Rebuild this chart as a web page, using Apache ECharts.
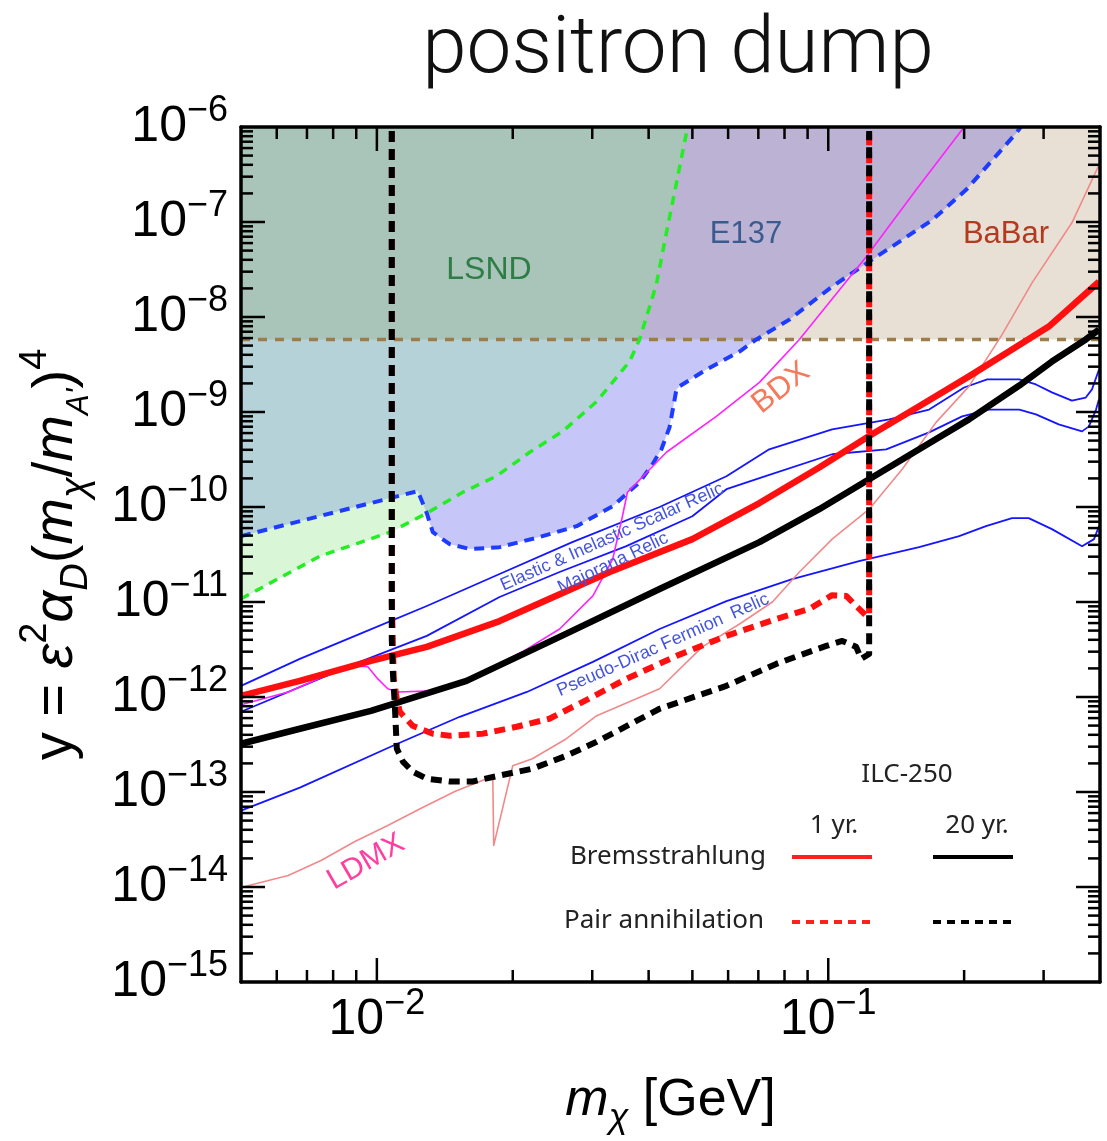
<!DOCTYPE html>
<html><head><meta charset="utf-8">
<script src="https://cdn.jsdelivr.net/npm/echarts@6/dist/echarts.min.js"></script>
<style>html,body{margin:0;padding:0;background:#fff}#c{width:1107px;height:1141px}</style>
</head><body><div id="c"></div>
<script>
const xMin = 0.005, xMax = 0.4, yMin = 1e-15, yMax = 1e-6;
const babarLevel = 5.8e-9;

const lsndEdge = [[0.005,1.08e-11],[0.00748,3.04e-11],[0.0107,5.43e-11],[0.0129,8.61e-11],[0.0155,1.43e-10],[0.0184,2.11e-10],[0.0218,3.77e-10],[0.0258,6.25e-10],[0.0307,1.29e-9],[0.0363,3.40e-9],[0.0382,5.8e-9],[0.0416,2.19e-8],[0.0438,7.70e-8],[0.0461,2.58e-7],[0.0488,1e-6]];
const e137Edge = [[0.005,4.93e-11],[0.01232,1.47e-10],[0.0129,8.61e-11],[0.0133,5.43e-11],[0.0145,4.06e-11],[0.0161,3.61e-11],[0.0187,3.78e-11],[0.0229,4.82e-11],[0.0277,6.28e-11],[0.0333,1.02e-10],[0.0382,1.82e-10],[0.0408,2.82e-10],[0.0427,4.05e-10],[0.0445,6.89e-10],[0.0461,1.73e-9],[0.0468,1.86e-9],[0.0537,2.80e-9],[0.0636,4.33e-9],[0.0693,5.8e-9],[0.0820,9.39e-9],[0.102,2.09e-8],[0.125,4.01e-8],[0.170,1.05e-7],[0.202,2.18e-7],[0.261,8.65e-7],[0.267,1e-6]];
const lsndE137Cross = 0.0129;

const scalarRelic = [[0.005,1.31e-12],[0.00675,2.52e-12],[0.00917,4.61e-12],[0.0129,9.08e-12],[0.0187,1.97e-11],[0.0271,4.27e-11],[0.0423,1.0e-10],[0.0595,2.11e-10],[0.0740,4.05e-10],[0.102,6.56e-10],[0.1365,8.36e-10],[0.1673,1.06e-9],[0.200,1.81e-9],[0.225,2.20e-9],[0.265,2.20e-9],[0.2885,1.95e-9],[0.313,1.61e-9],[0.3466,1.32e-9],[0.372,1.42e-9],[0.384,1.73e-9],[0.398,2.80e-9]];
const majoranaRelic = [[0.005,6.99e-13],[0.00917,2.34e-12],[0.0129,4.40e-12],[0.0187,1.13e-11],[0.0254,2.07e-11],[0.0357,3.87e-11],[0.0500,8.0e-11],[0.0595,1.54e-10],[0.0715,2.06e-10],[0.102,3.59e-10],[0.1344,4.05e-10],[0.1673,6.11e-10],[0.198,8.99e-10],[0.227,1.06e-9],[0.265,1.06e-9],[0.2885,9.44e-10],[0.324,7.41e-10],[0.365,6.25e-10],[0.378,7.06e-10],[0.392,1.06e-9],[0.398,1.36e-9]];
const pseudoDiracRelic = [[0.005,6.38e-14],[0.00675,1.11e-13],[0.01085,3.07e-13],[0.01526,6.19e-13],[0.0215,1.13e-12],[0.0301,2.34e-12],[0.0423,5.20e-12],[0.0595,1.02e-11],[0.0832,1.74e-11],[0.117,2.70e-11],[0.159,3.78e-11],[0.195,4.93e-11],[0.2236,6.28e-11],[0.2554,7.63e-11],[0.278,7.63e-11],[0.313,5.85e-11],[0.365,3.87e-11],[0.388,4.59e-11],[0.398,6.28e-11]];

const brems1yr = [[0.005,1.03e-12],[0.00675,1.48e-12],[0.0097,2.40e-12],[0.0129,3.37e-12],[0.0187,6.3e-12],[0.0328,2.07e-11],[0.0500,4.59e-11],[0.0704,1.1e-10],[0.0955,2.6e-10],[0.1232,5.6e-10],[0.159,1.15e-9],[0.205,2.37e-9],[0.2554,4.55e-9],[0.308,7.93e-9],[0.398,2.35e-8]];
const brems20yr = [[0.005,3.22e-13],[0.00675,4.63e-13],[0.0097,7.16e-13],[0.0158,1.48e-12],[0.0254,4.29e-12],[0.0423,1.37e-11],[0.0704,4.27e-11],[0.0955,9.48e-11],[0.1232,1.96e-10],[0.159,4.05e-10],[0.205,8.36e-10],[0.265,1.90e-9],[0.313,3.40e-9],[0.372,5.8e-9],[0.398,7.37e-9]];
const pair1yr = [[0.01079,9.08e-7],[0.01079,1.08e-11],[0.0109,1.55e-12],[0.01107,9.57e-13],[0.01124,6.99e-13],[0.0120,4.98e-13],[0.0133,4.11e-13],[0.0145,3.91e-13],[0.01716,4.11e-13],[0.0204,4.86e-13],[0.0241,5.90e-13],[0.0286,8.90e-13],[0.0357,1.55e-12],[0.0461,2.71e-12],[0.0595,4.40e-12],[0.0767,6.63e-12],[0.0908,8.44e-12],[0.102,1.18e-11],[0.1096,1.16e-11],[0.1153,9.08e-12],[0.1214,7.13e-12],[0.1232,7.13e-12],[0.1232,9.08e-7]];
const pair20yr = [[0.01079,9.08e-7],[0.01079,4.09e-12],[0.01085,1.84e-12],[0.01096,8.08e-13],[0.01107,2.86e-13],[0.01142,2.09e-13],[0.0120,1.64e-13],[0.0129,1.38e-13],[0.0145,1.29e-13],[0.0163,1.29e-13],[0.0187,1.49e-13],[0.0221,1.76e-13],[0.0263,2.41e-13],[0.0307,3.38e-13],[0.0423,7.52e-13],[0.0595,1.31e-12],[0.0767,2.23e-12],[0.0908,2.99e-12],[0.0990,3.45e-12],[0.1074,3.89e-12],[0.1153,3.37e-12],[0.1183,2.52e-12],[0.1232,2.84e-12],[0.1232,9.08e-7]];

const bdxLimit = [[0.005,8.28e-13],[0.00636,1.13e-12],[0.00863,2.13e-12],[0.00955,2.08e-12],[0.01005,1.55e-12],[0.01057,1.22e-12],[0.01113,1.13e-12],[0.0133,1.16e-12],[0.0145,1.28e-12],[0.01778,1.98e-12],[0.0210,2.99e-12],[0.0254,5.20e-12],[0.0301,1.16e-11],[0.0333,2.83e-11],[0.0350,8.0e-11],[0.0359,1.43e-10],[0.0438,3.77e-10],[0.0565,8.99e-10],[0.0704,2.05e-9],[0.0863,5.8e-9],[0.1214,4.31e-8],[0.1566,2.18e-7],[0.200,1e-6]];
const ldmxLimit = [[0.005,9.90e-15],[0.00636,1.32e-14],[0.00752,1.90e-14],[0.00894,3.01e-14],[0.01057,4.44e-14],[0.0125,6.69e-14],[0.01488,1.01e-13],[0.0175,1.38e-13],[0.01806,1.49e-13],[0.01815,2.74e-14],[0.0200,1.89e-13],[0.0221,2.24e-13],[0.0263,3.64e-13],[0.0307,6.35e-13],[0.0423,1.22e-12],[0.0526,3.37e-12],[0.0636,5.87e-12],[0.0752,1.0e-11],[0.0863,2.07e-11],[0.102,4.59e-11],[0.1232,9.48e-11],[0.1458,2.50e-10],[0.1733,7.78e-10],[0.205,1.86e-9],[0.2427,6.53e-9],[0.283,2.30e-8],[0.3466,9.81e-8],[0.398,3.99e-7]];

const xMajorTicks = [0.01, 0.1];
const xMinorTicks = [0.006,0.007,0.008,0.009,0.02,0.03,0.04,0.05,0.06,0.07,0.08,0.09,0.2,0.3];
const yMajorTicks = [1e-14,1e-13,1e-12,1e-11,1e-10,1e-9,1e-8,1e-7];
const yMinorMantissas = [2,3,4,5,6,7,8,9];
const yDecades = [-15,-14,-13,-12,-11,-10,-9,-8,-7];
const yMinorTicks = [];
yDecades.forEach(e => yMinorMantissas.forEach(m => yMinorTicks.push(Number((m * Math.pow(10, e)).toPrecision(3)))));

const FONT = 'Liberation Sans';

function poly(pts, color, z) {
  return {type:'custom', coordinateSystem:'cartesian2d', silent:true, z, data:[pts[0]],
    renderItem: (p, api) => ({type:'polygon', shape:{points: pts.map(q => api.coord(q))}, style:{fill: color}})};
}
function line(data, color, width, type, z) {
  return {type:'line', data, showSymbol:false, symbol:'none', silent:true, z, animation:false,
    lineStyle:{color, width, type, cap:'butt', join:'round'}, emphasis:{disabled:true}};
}
function tickSeries(data, isX) {
  return {type:'custom', coordinateSystem:'cartesian2d', silent:true, z:15, data,
    renderItem: (p, api) => {
      const len = api.value(2);
      const st = {stroke:'#000', lineWidth:2.5};
      if (isX) {
        const v = api.value(0);
        const b = api.coord([v, yMin]), t = api.coord([v, yMax]);
        return {type:'group', children:[
          {type:'line', shape:{x1:b[0], y1:b[1], x2:b[0], y2:b[1]-len}, style:st},
          {type:'line', shape:{x1:t[0], y1:t[1], x2:t[0], y2:t[1]+len}, style:st}]};
      } else {
        const v = api.value(1);
        const l = api.coord([xMin, v]), r = api.coord([xMax, v]);
        return {type:'group', children:[
          {type:'line', shape:{x1:l[0], y1:l[1], x2:l[0]+len, y2:l[1]}, style:st},
          {type:'line', shape:{x1:r[0], y1:r[1], x2:r[0]-len, y2:r[1]}, style:st}]};
      }
    }};
}
function powLabel(v) {
  const e = Math.log10(v), r = Math.round(e);
  if (Math.abs(e - r) > 1e-6) return '';
  return '{b|10}{s|\u2212' + (-r) + '}';
}
const tickRich = {
  b: {fontSize:50, lineHeight:68, fontFamily:FONT, color:'#000'},
  s: {fontSize:36, lineHeight:36, verticalAlign:'top', fontFamily:FONT, color:'#000'}
};

const upperE137 = [[xMin, babarLevel]].concat(e137Edge.filter(p => p[1] >= babarLevel), [[xMin, yMax]]);
const upperLsnd = [[xMin, babarLevel]].concat(lsndEdge.filter(p => p[1] >= babarLevel), [[xMin, yMax]]);
const wedge = e137Edge.filter(p => p[0] <= lsndE137Cross).concat(lsndEdge.filter(p => p[0] < lsndE137Cross).reverse());

const series = [
  poly([[xMin,babarLevel],[xMax,babarLevel],[xMax,yMax],[xMin,yMax]], '#e8e0d4', 1),
  poly(e137Edge.concat([[xMin,yMax]]), '#c6c7f8', 1),
  poly(upperE137, '#bcb2d3', 1),
  poly(lsndEdge.concat([[xMin,yMax]]), '#b4d2d7', 1),
  poly(upperLsnd, '#a9c4b8', 1),
  poly(wedge, '#d9f7d6', 1),
  line([[xMin,babarLevel],[xMax,babarLevel]], '#9c7d4a', 3.5, [9,8], 2),
  line(lsndEdge, '#22ee22', 3.5, [9,7], 2),
  line(e137Edge, '#1d3cff', 4, [10,7], 2),
  line(scalarRelic, '#1515ff', 1.8, 'solid', 3),
  line(majoranaRelic, '#1515ff', 1.8, 'solid', 3),
  line(pseudoDiracRelic, '#1515ff', 1.8, 'solid', 3),
  line(ldmxLimit, '#f08a8a', 1.6, 'solid', 3),
  line(bdxLimit, '#ff22ff', 1.6, 'solid', 3),
  line(brems1yr, '#ff1010', 6.5, 'solid', 4),
  line(brems20yr, '#000000', 6.5, 'solid', 4),
  line(pair1yr, '#ff1010', 6, [11,7], 5),
  line(pair20yr, '#000000', 6, [11,7], 6),
  tickSeries(xMajorTicks.map(v => [v, yMin, 24]).concat(xMinorTicks.map(v => [v, yMin, 12])), true),
  tickSeries(yMajorTicks.map(v => [xMin, v, 24]).concat(yMinorTicks.map(v => [xMin, v, 12])), false)
];

const axisLineStyle = {show:true, onZero:false, lineStyle:{color:'#000', width:3.5}};
const texts = [
  {t:'LSND', x:489, y:270, size:32, color:'#2e7d46', rot:0},
  {t:'E137', x:746, y:234, size:31, color:'#3b5b8f', rot:0},
  {t:'BaBar', x:1006, y:234, size:31, color:'#b23a1e', rot:0},
  {t:'BDX', x:781, y:388, size:31, color:'#f5795b', rot:38},
  {t:'LDMX', x:366, y:862, size:30, color:'#ff3ea0', rot:30},
  {t:'Elastic & Inelastic Scalar Relic', x:612, y:537, size:18, color:'#4455dd', rot:24},
  {t:'Majorana Relic', x:613, y:563, size:18, color:'#4455dd', rot:25.5},
  {t:'Pseudo-Dirac Fermion  Relic', x:663, y:645, size:18, color:'#4455dd', rot:24}
];
const legendTexts = [
  {t:'ILC-250', x:907, y:775, size:26},
  {t:'1 yr.', x:834, y:826, size:26},
  {t:'20 yr.', x:977, y:826, size:26},
  {t:'Bremsstrahlung', x:668, y:857, size:26},
  {t:'Pair annihilation', x:664, y:921, size:26}
];
const graphic = [
  {type:'text', x:678, y:52, z:30, style:{text:'positron dump', font:'300 80px Roboto', fill:'#111', textAlign:'center', verticalAlign:'middle'}}
].concat(texts.map(o => ({type:'text', x:o.x, y:o.y, z:30, rotation:o.rot*Math.PI/180,
    style:{text:o.t, font:o.size + 'px "' + FONT + '"', fill:o.color, textAlign:'center', verticalAlign:'middle'}})))
 .concat(legendTexts.map(o => ({type:'text', x:o.x, y:o.y, z:30,
    style:{text:o.t, font:o.size + 'px "Noto Sans"', fill:'#222', textAlign:'center', verticalAlign:'middle'}})))
 .concat([
  {type:'line', z:30, shape:{x1:792, y1:857, x2:872, y2:857}, style:{stroke:'#ff2020', lineWidth:4}},
  {type:'line', z:30, shape:{x1:933, y1:857, x2:1013, y2:857}, style:{stroke:'#000', lineWidth:4}},
  {type:'line', z:30, shape:{x1:792, y1:922, x2:872, y2:922}, style:{stroke:'#ff2020', lineWidth:4, lineDash:[8,6]}},
  {type:'line', z:30, shape:{x1:933, y1:922, x2:1013, y2:922}, style:{stroke:'#000', lineWidth:4, lineDash:[8,6]}}
 ]);

const nameRich = {
  n: {fontSize:56, lineHeight:78, fontFamily:FONT, color:'#000'},
  i: {fontSize:56, lineHeight:78, fontFamily:FONT, fontStyle:'italic', color:'#000'},
  sup: {fontSize:38, lineHeight:42, fontFamily:FONT, color:'#000', verticalAlign:'top'},
  sub: {fontSize:38, lineHeight:46, fontFamily:FONT, fontStyle:'italic', color:'#000', verticalAlign:'bottom'},
  subn: {fontSize:31, lineHeight:46, fontFamily:FONT, fontStyle:'italic', color:'#000', verticalAlign:'bottom'}
};
const xNameRich = {
  n: {fontSize:52, lineHeight:70, fontFamily:FONT, color:'#000'},
  i: {fontSize:52, lineHeight:70, fontFamily:FONT, fontStyle:'italic', color:'#000'},
  sub: {fontSize:36, lineHeight:44, fontFamily:FONT, fontStyle:'italic', color:'#000', verticalAlign:'bottom'}
};

const option = {
  animation:false,
  grid:{left:241, right:7, top:127, bottom:157, containLabel:false},
  xAxis:[
    {type:'log', logBase:10, min:xMin, max:xMax, position:'bottom', z:20,
     axisLine:axisLineStyle, axisTick:{show:false}, splitLine:{show:false}, minorTick:{show:false},
     axisLabel:{formatter:powLabel, rich:tickRich, margin:4, showMinLabel:true, showMaxLabel:true},
     name:'{i|m}{sub|\u03c7}{n| [GeV]}', nameLocation:'middle', nameGap:84,
     nameTextStyle:{fontSize:52, fontFamily:FONT, color:'#000', rich:xNameRich}},
    {type:'log', logBase:10, min:xMin, max:xMax, position:'top', z:20,
     axisLine:axisLineStyle, axisTick:{show:false}, splitLine:{show:false}, axisLabel:{show:false}}
  ],
  yAxis:[
    {type:'log', logBase:10, min:yMin, max:yMax, position:'left', z:20, splitNumber:9,
     axisLine:axisLineStyle, axisTick:{show:false}, splitLine:{show:false}, minorTick:{show:false},
     axisLabel:{formatter:powLabel, rich:tickRich, margin:13},
     name:'{n|y = }{i|\u03b5}{sup|2}{i|\u03b1}{sub|D}{n|(}{i|m}{sub|\u03c7}{n|/}{i|m}{subn|A\'}{n|)}{sup|4}',
     nameLocation:'middle', nameGap:146, nameRotate:90,
     nameTextStyle:{fontSize:56, fontFamily:FONT, color:'#000', rich:nameRich}},
    {type:'log', logBase:10, min:yMin, max:yMax, position:'right', z:20,
     axisLine:axisLineStyle, axisTick:{show:false}, splitLine:{show:false}, axisLabel:{show:false}}
  ],
  series,
  graphic
};
const chart = echarts.init(document.getElementById('c'), null, {renderer:'canvas'});
chart.setOption(option);
</script></body></html>
